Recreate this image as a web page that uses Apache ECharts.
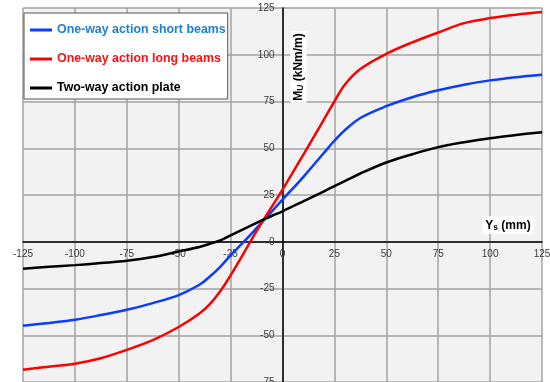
<!DOCTYPE html>
<html>
<head>
<meta charset="utf-8">
<script src="https://cdn.jsdelivr.net/npm/echarts@6/dist/echarts.min.js"></script>
<style>
  html, body { margin: 0; padding: 0; background: #ffffff; }
  #chart { width: 550px; height: 382px; }
</style>
</head>
<body>
<div id="chart"></div>
<script>
// Displacement Ys (mm) at which the moments are sampled
const ysValues = [-125, -112.5, -100, -87.5, -75, -62.5, -50, -40, -35, -30, -25, -20, -15, -10, -5,
                  0, 10, 20, 25, 30, 37.5, 50, 62.5, 75, 87.5, 100, 112.5, 125];

// Moment MU (kNm/m) for each action type
const shortBeams = [-44.9, -43.4, -41.7, -39.2, -36.4, -32.8, -28.5, -23, -18.6, -13.4, -7.3, -1.6, 4.2, 10.3, 16.4,
                    22.5, 34.6, 47.6, 54, 59.6, 66.2, 72.5, 77.3, 81, 84, 86.3, 88, 89.3];
const longBeams  = [-68.4, -66.8, -65.2, -62.3, -57.8, -52.6, -45.6, -38.4, -33.4, -26.5, -18, -8.6, 1, 10.2, 19,
                    27.8, 46.5, 65.5, 75, 84, 92.4, 100.5, 106.6, 111.9, 116.9, 119.6, 121.4, 122.8];
const twoWayPlate = [-14.4, -13.4, -12.5, -11.4, -10.2, -8.2, -5.2, -2.8, -1.1, 0.7, 3.4, 6.1, 8.8, 11.4, 13.9,
                     16.3, 21.6, 27, 29.7, 32.4, 36.5, 42.4, 46.8, 50.6, 53.2, 55.4, 57.1, 58.6];

const seriesNames = ['One-way action short beams', 'One-way action long beams', 'Two-way action plate'];
const xTicks = { min: -125, max: 125, step: 25 };
const yTicks = { min: -75, max: 125, step: 25 };

const pairs = (ys) => ysValues.map((x, i) => [x, ys[i]]);

const W = 550, H = 382;
const gridBox = { left: 23, right: 8, top: 8, bottom: 0 };
const plotW = W - gridBox.left - gridBox.right;
const plotH = H - gridBox.top - gridBox.bottom;
// Shift the axes (line + labels) so they cross at the origin
const yAxisShift = plotW * (0 - xTicks.min) / (xTicks.max - xTicks.min);
const xAxisShift = plotH * (0 - yTicks.min) / (yTicks.max - yTicks.min);

const chart = echarts.init(document.getElementById('chart'), null, { renderer: 'canvas' });

const font = 'Liberation Sans, Arial, sans-serif';
const gridLine = { show: true, lineStyle: { color: '#a3a3a3', width: 1.5 } };
const tickLabel = { color: '#3a3a3a', fontSize: 10, fontFamily: font };

const curve = (name, data, color) => ({
  name, type: 'line', data: pairs(data),
  showSymbol: false, symbol: 'none',
  smooth: 0.35,
  lineStyle: { color, width: 2.5 }, itemStyle: { color }
});

chart.setOption({
  animation: false,
  backgroundColor: '#ffffff',
  grid: Object.assign({
    outerBoundsMode: 'none',
    containLabel: false,
    show: true, backgroundColor: '#f2f2f2', borderWidth: 0
  }, gridBox),
  legend: {
    orient: 'vertical',
    left: 24, top: 13,
    backgroundColor: '#ffffff',
    borderColor: '#555555', borderWidth: 1,
    padding: [11, 2, 5, 6],
    itemGap: 17,
    itemWidth: 22, itemHeight: 3,
    icon: 'rect',
    textStyle: { fontSize: 12.4, fontWeight: 'bold', fontFamily: font },
    data: [
      { name: seriesNames[0], textStyle: { color: '#1e7fd6' } },
      { name: seriesNames[1], textStyle: { color: '#ff1010' } },
      { name: seriesNames[2], textStyle: { color: '#000000' } }
    ]
  },
  xAxis: {
    type: 'value',
    position: 'bottom',
    offset: -xAxisShift,
    min: xTicks.min, max: xTicks.max, interval: xTicks.step,
    axisLine: { onZero: false, lineStyle: { color: '#000000', width: 1.5 } },
    axisTick: { show: false },
    axisLabel: Object.assign({ margin: 7, showMinLabel: true, showMaxLabel: true }, tickLabel),
    splitLine: gridLine
  },
  yAxis: {
    type: 'value',
    position: 'left',
    offset: -yAxisShift,
    min: yTicks.min, max: yTicks.max, interval: yTicks.step,
    axisLine: { onZero: false, lineStyle: { color: '#000000', width: 1.5 } },
    axisTick: { show: false },
    axisLabel: Object.assign({ margin: 8, showMinLabel: true, showMaxLabel: true }, tickLabel),
    splitLine: gridLine
  },
  graphic: [
    {
      type: 'text',
      x: 298.5, y: 67,
      rotation: Math.PI / 2,
      z: 100,
      style: {
        text: '{b|M}{s|U}{b| (kNm/m)}',
        align: 'center', verticalAlign: 'middle',
        backgroundColor: '#ffffff',
        padding: [2, 2, 1, 2],
        rich: {
          b: { fontSize: 12, fontWeight: 'bold', fill: '#000000', fontFamily: font },
          s: { fontSize: 8.5, fontWeight: 'bold', fill: '#000000', verticalAlign: 'bottom', padding: [4, 0, 0, 0], fontFamily: font }
        }
      }
    },
    {
      type: 'text',
      x: 508, y: 225,
      z: 100,
      style: {
        text: '{b|Y}{s|s}{b| (mm)}',
        align: 'center', verticalAlign: 'middle',
        backgroundColor: '#ffffff',
        padding: [3, 3, 2, 3],
        rich: {
          b: { fontSize: 12, fontWeight: 'bold', fill: '#000000', fontFamily: font },
          s: { fontSize: 8.5, fontWeight: 'bold', fill: '#000000', verticalAlign: 'bottom', padding: [4, 0, 0, 0], fontFamily: font }
        }
      }
    }
  ],
  series: [
    curve(seriesNames[0], shortBeams, '#0a3cff'),
    curve(seriesNames[1], longBeams, '#ff0000'),
    curve(seriesNames[2], twoWayPlate, '#000000')
  ]
});
</script>
</body>
</html>
